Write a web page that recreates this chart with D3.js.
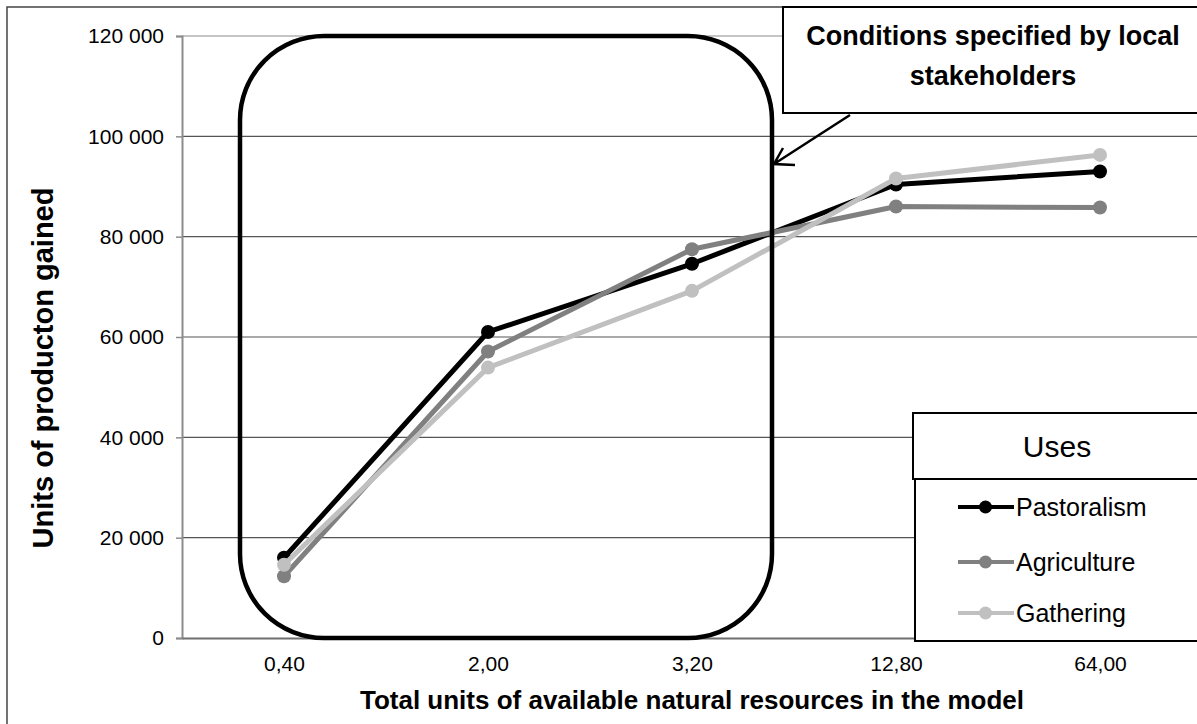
<html>
<head>
<meta charset="utf-8">
<script src="https://cdn.jsdelivr.net/npm/d3@7"></script>
<style>
  body { margin: 0; background: #fff; }
  text { font-family: "Liberation Sans", Arial, sans-serif; }
</style>
</head>
<body>
<script>
// data
var categories = ["0,40", "2,00", "3,20", "12,80", "64,00"];
var pastoralism = [16000, 61000, 74600, 90400, 93000];
var agriculture = [12300, 57100, 77500, 86000, 85800];
var gathering = [14600, 53900, 69200, 91600, 96300];
var yTicks = [0, 20000, 40000, 60000, 80000, 100000, 120000];

var seriesNames = ["Pastoralism", "Agriculture", "Gathering"];
var seriesValues = [pastoralism, agriculture, gathering];
var seriesColors = ["#000000", "#808080", "#c0c0c0"];

var W = 1197, H = 724;
var plotL = 182, plotR = 1202, plotT = 36, plotB = 638;

var svg = d3.select("body").append("svg")
  .attr("width", W)
  .attr("height", H);

var x = d3.scalePoint().domain(categories).range([plotL, plotR]).padding(0.5);
var y = d3.scaleLinear().domain([0, 120000]).range([plotB, plotT]);

var loc = d3.formatLocale({decimal: ",", thousands: " ", grouping: [3], currency: ["", ""]});
var fmt = loc.format(",d");

// outer chart frame (runs off the right and bottom of the picture)
svg.append("rect")
  .attr("x", 7).attr("y", 7)
  .attr("width", 1210).attr("height", 730)
  .attr("fill", "none")
  .attr("stroke", "#444")
  .attr("stroke-width", 1.5);

// gridlines
svg.append("g")
  .selectAll("line")
  .data(yTicks.filter(function(d) { return d > 0; }))
  .enter().append("line")
  .attr("x1", plotL).attr("x2", plotR)
  .attr("y1", function(d) { return y(d); })
  .attr("y2", function(d) { return y(d); })
  .attr("stroke", function(d) { return d == 120000 ? "#8c8c8c" : "#555"; })
  .attr("stroke-width", 1.2);

// y axis
var yAxis = svg.append("g")
  .attr("transform", "translate(" + plotL + ",0)")
  .call(d3.axisLeft(y).tickValues(yTicks).tickFormat(fmt).tickSize(6).tickPadding(12));
yAxis.select(".domain").attr("stroke", "#8c8c8c").attr("stroke-width", 2);
yAxis.selectAll(".tick line").attr("stroke", "#8c8c8c").attr("stroke-width", 1.5);
yAxis.selectAll(".tick text")
  .attr("font-size", 21)
  .attr("font-family", "Liberation Sans, Arial, sans-serif")
  .attr("fill", "#000");

// x axis
var xAxis = svg.append("g")
  .attr("transform", "translate(0," + plotB + ")")
  .call(d3.axisBottom(x).tickSize(0).tickPadding(18));
xAxis.select(".domain").attr("stroke", "#6e6e6e").attr("stroke-width", 2);
xAxis.selectAll(".tick text")
  .attr("font-size", 21)
  .attr("font-family", "Liberation Sans, Arial, sans-serif")
  .attr("fill", "#000");

// axis titles
svg.append("text")
  .attr("x", (plotL + plotR) / 2)
  .attr("y", 709)
  .attr("text-anchor", "middle")
  .attr("font-size", 26)
  .attr("font-weight", "bold")
  .text("Total units of available natural resources in the model");

svg.append("text")
  .attr("transform", "translate(53,368) rotate(-90)")
  .attr("text-anchor", "middle")
  .attr("font-size", 29)
  .attr("font-weight", "bold")
  .text("Units of producton gained");

// series
var line = d3.line()
  .x(function(d, i) { return x(categories[i]); })
  .y(function(d) { return y(d); });

seriesValues.forEach(function(vals, s) {
  var g = svg.append("g");
  g.append("path")
    .attr("d", line(vals))
    .attr("fill", "none")
    .attr("stroke", seriesColors[s])
    .attr("stroke-width", 5)
    .attr("stroke-linejoin", "round");
  g.selectAll("circle")
    .data(vals)
    .enter().append("circle")
    .attr("cx", function(d, i) { return x(categories[i]); })
    .attr("cy", function(d) { return y(d); })
    .attr("r", 7)
    .attr("fill", seriesColors[s]);
});

// rounded box around the first three conditions
var boxL = x(categories[0]) - 44, boxR = x(categories[2]) + 80;
svg.append("rect")
  .attr("x", boxL).attr("y", plotT)
  .attr("width", boxR - boxL).attr("height", plotB - plotT)
  .attr("rx", 84).attr("ry", 84)
  .attr("fill", "none")
  .attr("stroke", "#000")
  .attr("stroke-width", 4.5);

// callout
svg.append("rect")
  .attr("x", 783).attr("y", 7)
  .attr("width", 440).attr("height", 106)
  .attr("fill", "#fff")
  .attr("stroke", "#000")
  .attr("stroke-width", 2);
svg.append("text")
  .attr("x", 993).attr("y", 45)
  .attr("text-anchor", "middle")
  .attr("font-family", "Lato, Carlito, sans-serif")
  .attr("font-weight", "bold")
  .attr("font-size", 27)
  .text("Conditions specified by local");
svg.append("text")
  .attr("x", 993).attr("y", 85)
  .attr("text-anchor", "middle")
  .attr("font-family", "Lato, Carlito, sans-serif")
  .attr("font-weight", "bold")
  .attr("font-size", 27)
  .text("stakeholders");

// arrow
svg.append("path")
  .attr("d", "M850,115 L774,164 M783,148 L774,164 L795,165")
  .attr("fill", "none")
  .attr("stroke", "#000")
  .attr("stroke-width", 2.5);

// legend
svg.append("rect")
  .attr("x", 913).attr("y", 413)
  .attr("width", 300).attr("height", 66)
  .attr("fill", "#fff")
  .attr("stroke", "#000")
  .attr("stroke-width", 2);
svg.append("text")
  .attr("x", 1057).attr("y", 457)
  .attr("text-anchor", "middle")
  .attr("font-family", "Lato, Carlito, sans-serif")
  .attr("font-size", 30)
  .text("Uses");
svg.append("rect")
  .attr("x", 915).attr("y", 479)
  .attr("width", 300).attr("height", 162)
  .attr("fill", "#fff")
  .attr("stroke", "#000")
  .attr("stroke-width", 2);

var legendY = [507, 562, 613];
var lg = svg.append("g").selectAll("g")
  .data(seriesNames)
  .enter().append("g")
  .attr("transform", function(d, i) { return "translate(0," + legendY[i] + ")"; });
lg.append("line")
  .attr("x1", 958).attr("x2", 1014)
  .attr("stroke", function(d, i) { return seriesColors[i]; })
  .attr("stroke-width", 4);
lg.append("circle")
  .attr("cx", 985.5).attr("r", 6.5)
  .attr("fill", function(d, i) { return seriesColors[i]; });
lg.append("text")
  .attr("x", 1016).attr("y", 9)
  .attr("font-size", 25)
  .text(function(d) { return d; });
</script>
</body>
</html>
